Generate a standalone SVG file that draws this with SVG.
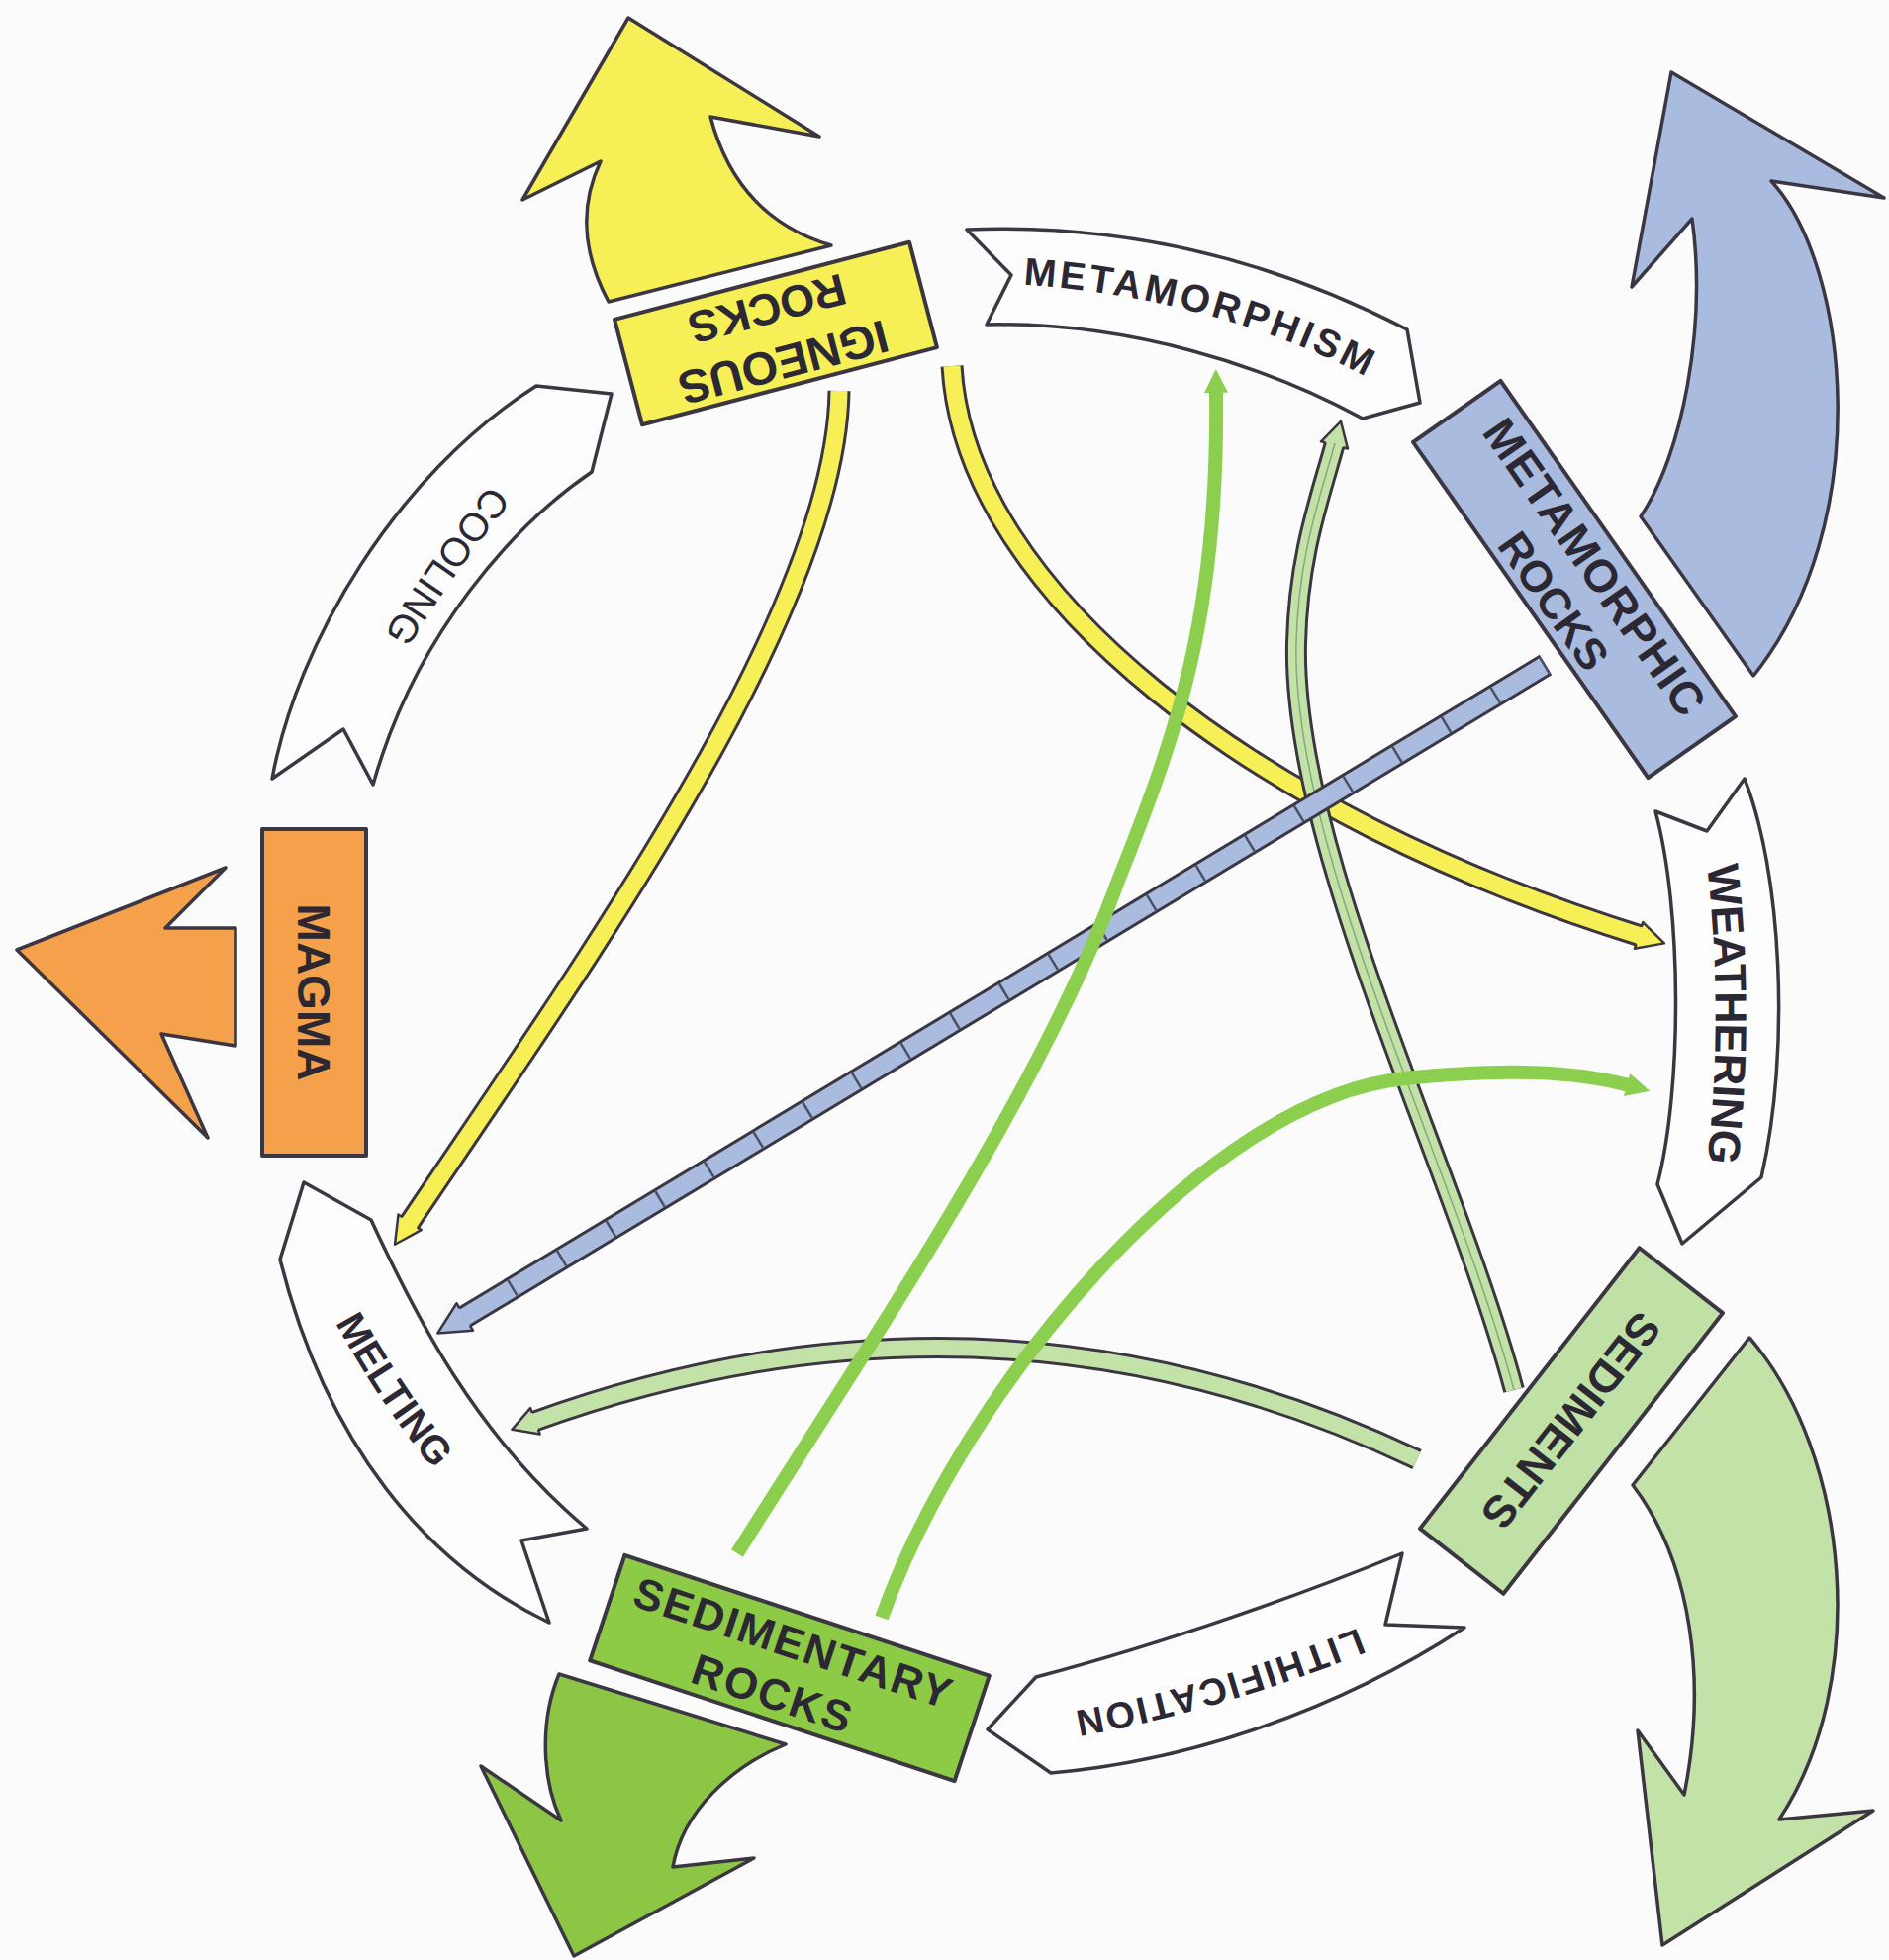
<svg xmlns="http://www.w3.org/2000/svg" width="1909" height="1981" viewBox="0 0 1909 1981">
<defs>
<style>
.ol{stroke:#3b3642;stroke-width:3.5;stroke-linejoin:round}
.box{stroke:#3b3642;stroke-width:4;stroke-linejoin:round}
.ban{fill:#fdfdfd;stroke:#3b3642;stroke-width:3.5;stroke-linejoin:round}
.lbl{font-family:"Liberation Sans",Arial,sans-serif;fill:#2c2833}
.b{font-weight:bold}
.bandol{fill:none;stroke:#3b3642;stroke-linecap:butt}
.band{fill:none;stroke-linecap:butt}
</style>
<marker id="hy" markerUnits="userSpaceOnUse" orient="auto" viewBox="-30 -30 60 60" markerWidth="60" markerHeight="60" refX="0" refY="0" overflow="visible">
<path d="M-2,-9 L-2,-14 L25,0 L-2,14 L-2,9" fill="#f6ef55" stroke="#3b3642" stroke-width="2.5" stroke-linejoin="round"/>
</marker>
<marker id="hl" markerUnits="userSpaceOnUse" orient="auto" viewBox="-30 -30 60 60" markerWidth="60" markerHeight="60" refX="0" refY="0" overflow="visible">
<path d="M-2,-9 L-2,-14 L23,0 L-2,14 L-2,9" fill="#c2e2a8" stroke="#3b3642" stroke-width="2.5" stroke-linejoin="round"/>
</marker>
<marker id="hb" markerUnits="userSpaceOnUse" orient="auto" viewBox="-40 -40 80 80" markerWidth="80" markerHeight="80" refX="0" refY="0" overflow="visible">
<path d="M-2,-10 L-2,-16 L30,0 L-2,16 L-2,10" fill="#a9bce0" stroke="#3b3642" stroke-width="2.5" stroke-linejoin="round"/>
</marker>
<marker id="hg" markerUnits="userSpaceOnUse" orient="auto" viewBox="-30 -30 60 60" markerWidth="60" markerHeight="60" refX="0" refY="0" overflow="visible">
<path d="M-2,-12 L22,0 L-2,12 Z" fill="#8ccf4f"/>
</marker>
<path id="p-cool" d="M575,420 C500,500 420,600 350,740"/>
<path id="p-melt" d="M330,1290 C365,1360 420,1450 480,1510"/>
<path id="p-weath" d="M1738,850 C1752,950 1755,1080 1738,1200"/>
<path id="p-meta" d="M1000,272 C1150,276 1310,318 1420,388"/>
<path id="p-lith" d="M1420,1640 C1300,1690 1180,1730 1040,1750"/>
</defs>
<rect x="0" y="0" width="1909" height="1981" fill="#fbfbfb"/>

<!-- big cycle arrows -->
<g id="igneous-arrow"><path class="ol" fill="#f6ef55" d="M615,305 Q575,230 607,163 L528,202 L635,18 L828,138 L718,118 Q745,220 840,248 Z"/></g>
<g id="metamorphic-arrow"><path class="ol" fill="#a9bce0" d="M1658,522 C1700,460 1725,330 1710,221 L1649,290 L1689,73 L1904,200 L1790,183 C1870,270 1895,530 1772,683 Z"/></g>
<g id="sediments-arrow"><path class="ol" fill="#c2e2a8" d="M1650,1501 L1768,1352 C1870,1470 1890,1700 1798,1839 L1893,1830 L1680,1966 L1655,1749 L1702,1814 C1725,1700 1710,1580 1650,1501 Z"/></g>
<g id="sedimentary-arrow"><path class="ol" fill="#8cc644" d="M565,1692 L794,1763 C740,1785 690,1830 680,1887 L762,1878 L580,1977 L486,1785 L567,1840 C548,1800 545,1740 565,1692 Z"/></g>
<g id="magma-arrow"><path class="ol" fill="#f5a04b" d="M17,960 L228,877 L167,938 L238,938 L238,1057 L163,1045 L210,1150 Z"/></g>

<!-- process banners -->
<g id="cooling">
<path class="ban" d="M542,390 L618,398 L598,477 C520,530 420,640 377,793 L347,737 L275,787 C300,650 400,480 542,390 Z"/>
<text class="lbl" font-size="40" dominant-baseline="central"><textPath href="#p-cool" startOffset="50%" text-anchor="middle">COOLING</textPath></text>
</g>
<g id="metamorphism">
<path class="ban" d="M977,232 C1150,225 1300,270 1422,333 L1435,407 L1377,423 C1280,370 1140,325 997,328 L1022,278 Z"/>
<text class="lbl b" font-size="39" letter-spacing="4" dominant-baseline="central"><textPath href="#p-meta" startOffset="50%" text-anchor="middle">METAMORPHISM</textPath></text>
</g>
<g id="weathering">
<path class="ban" d="M1673,820 L1725,840 L1763,787 C1800,880 1810,1060 1780,1190 L1700,1257 L1675,1197 C1700,1100 1700,920 1673,820 Z"/>
<text class="lbl b" font-size="45" dominant-baseline="central"><textPath href="#p-weath" startOffset="50%" text-anchor="middle">WEATHERING</textPath></text>
</g>
<g id="lithification">
<path class="ban" d="M998,1748 L1047,1695 C1180,1660 1320,1610 1417,1570 L1400,1642 L1480,1645 C1350,1730 1200,1780 1062,1792 Z"/>
<text class="lbl b" font-size="38" letter-spacing="2.5" dominant-baseline="central"><textPath href="#p-lith" startOffset="50%" text-anchor="middle">LITHIFICATION</textPath></text>
</g>
<g id="melting">
<path class="ban" d="M283,1273 L307,1195 L375,1233 C420,1330 480,1450 593,1545 L527,1557 L555,1640 C430,1580 330,1460 283,1273 Z"/>
<text class="lbl b" font-size="40" dominant-baseline="central"><textPath href="#p-melt" startOffset="50%" text-anchor="middle">MELTING</textPath></text>
</g>

<!-- connectors -->
<g id="connectors">
<path class="bandol" stroke-width="23" d="M848,395 C845,620 588,977 413,1237"/>
<path class="band" stroke="#f6ef55" stroke-width="17" marker-end="url(#hy)" d="M848,395 C845,620 588,977 413,1237"/>
<path class="bandol" stroke-width="23" d="M962,370 C975,600 1270,826 1658,946"/>
<path class="band" stroke="#f6ef55" stroke-width="17" marker-end="url(#hy)" d="M962,370 C975,600 1270,826 1658,946"/>
<path class="bandol" stroke-width="22" d="M1530,1405 C1470,1180 1305,860 1310,650 C1312,560 1335,500 1349,448"/>
<path class="band" stroke="#c2e2a8" stroke-width="16" marker-end="url(#hl)" d="M1530,1405 C1470,1180 1305,860 1310,650 C1312,560 1335,500 1349,448"/>
<path class="band" stroke="#6f8f66" stroke-width="1.5" opacity="0.7" d="M1530,1405 C1470,1180 1305,860 1310,650 C1312,560 1335,500 1349,448"/>
<path class="bandol" stroke-width="22" d="M1432,1475 Q1000,1270 539,1437"/>
<path class="band" stroke="#c2e2a8" stroke-width="16" marker-end="url(#hl)" d="M1432,1475 Q1000,1270 539,1437"/>
<path class="bandol" stroke-width="24" d="M1562,672 L468,1332"/>
<path class="band" stroke="#a9bce0" stroke-width="18" d="M1562,672 L468,1332"/>
<path class="band" stroke="#4b4f63" stroke-width="18" stroke-dasharray="2.5 55.5" marker-end="url(#hb)" d="M1562,672 L468,1332"/>
<path class="band" stroke="#8ccf4f" stroke-width="14" marker-end="url(#hg)" d="M745,1570 C870,1370 1050,1110 1130,890 C1190,740 1232,620 1229,395"/>
<path class="band" stroke="#8ccf4f" stroke-width="14" marker-end="url(#hg)" d="M891,1635 C975,1400 1220,1110 1420,1090 C1520,1080 1590,1082 1646,1097"/>
</g>

<!-- rock boxes -->
<g id="igneous-rocks" transform="translate(784,337) rotate(-14.7)">
<rect class="box" x="-154" y="-55" width="308" height="110" fill="#f6ef55"/>
<g transform="rotate(180)">
<text class="lbl b" font-size="47" text-anchor="middle" x="0" y="-14">IGNEOUS</text>
<text class="lbl b" font-size="45" text-anchor="middle" x="2" y="42">ROCKS</text>
</g>
</g>
<g id="metamorphic-rocks" transform="translate(1591,585.5) rotate(55)">
<rect class="box" x="-207" y="-54" width="414" height="108" fill="#a9bce0"/>
<text class="lbl b" font-size="46" letter-spacing="1" text-anchor="middle" x="2" y="-8">METAMORPHIC</text>
<text class="lbl b" font-size="44" text-anchor="middle" x="6" y="45">ROCKS</text>
</g>
<g id="sediments" transform="translate(1588,1436) rotate(-52)">
<rect class="box" x="-180" y="-53.5" width="360" height="107" fill="#c0e1a6"/>
<text class="lbl b" font-size="45" text-anchor="middle" transform="rotate(180)" x="0" y="16">SEDIMENTS</text>
</g>
<g id="sedimentary-rocks" transform="translate(798,1686) rotate(18.3)">
<rect class="box" x="-194" y="-56" width="388" height="112" fill="#8dca45"/>
<text class="lbl b" font-size="44" letter-spacing="2" text-anchor="middle" x="-4" y="-10">SEDIMENTARY</text>
<text class="lbl b" font-size="44" letter-spacing="2" text-anchor="middle" x="-8" y="45">ROCKS</text>
</g>
<g id="magma">
<rect class="box" x="265" y="838" width="105" height="330" fill="#f5a04b"/>
<text class="lbl b" font-size="46" text-anchor="middle" transform="translate(317,1003) rotate(90)" x="0" y="16">MAGMA</text>
</g>
</svg>
